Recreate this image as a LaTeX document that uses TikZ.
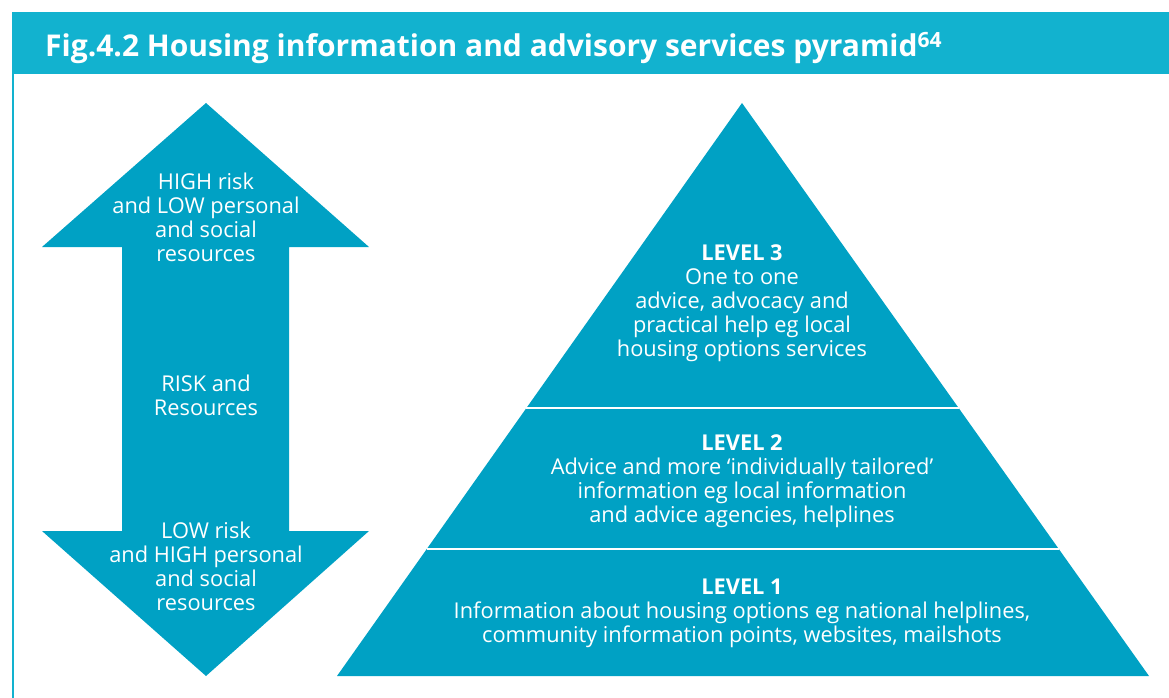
\documentclass[tikz,border=0pt]{standalone}
\usepackage{fontspec}
\setmainfont{Open Sans}
\usetikzlibrary{calc}
\definecolor{barcyan}{RGB}{18,178,207}
\definecolor{shapecyan}{RGB}{0,161,196}
\tikzset{
    shapefill/.style={fill=shapecyan},
    lbl/.style={text=white, align=center, inner sep=0pt,
        font=\fontsize{21.8}{24}\selectfont},
    sepline/.style={white, line width=2.5pt},
}
\begin{document}
\begin{tikzpicture}[x=1pt, y=-1pt]
        %画布与边框, 标题栏
        \useasboundingbox (0, 0) rectangle (1169, 698);
        \clip (0, 0) rectangle (1169, 698);
        \fill[barcyan] (12, 12) rectangle (1169, 74);
        \draw[barcyan, line width=2pt] (13, 698) -- (13, 13) -- (1169, 13);
        \node[anchor=base west, inner sep=0pt, text=white,
            font=\bfseries\fontsize{30}{36}\selectfont] (title) at (45, 57)
            {Fig.4.2 Housing information and advisory services pyramid\textsuperscript{64}};
        %双向箭头
        \fill[shapefill] (206, 103) -- (369, 247) -- (289, 247) -- (289, 531) %
            -- (369, 531) -- (206, 676) -- (42, 531) -- (122, 531) %
            -- (122, 247) -- (42, 247) -- cycle;
        \node[lbl] (high) at (206, 217) {HIGH risk\\and LOW personal\\and social\\resources};
        \node[lbl] (mid) at (206, 395) {RISK and\\Resources};
        \node[lbl] (low) at (206, 566) {LOW risk\\and HIGH personal\\and social\\resources};
        %金字塔, 三层
        \coordinate (apex) at (742, 103);
        \coordinate (bl) at (337, 676);
        \coordinate (br) at (1149, 676);
        \fill[shapefill] (apex) -- (br) -- (bl) -- cycle;
        \coordinate (l3l) at ($(apex)!0.5323!(bl)$);
        \coordinate (l3r) at ($(apex)!0.5323!(br)$);
        \coordinate (l2l) at ($(apex)!0.7784!(bl)$);
        \coordinate (l2r) at ($(apex)!0.7784!(br)$);
        \draw[sepline] (l3l) -- (l3r);
        \draw[sepline] (l2l) -- (l2r);
        \node[lbl] (level3) at (742, 303) {\textbf{LEVEL 3}\\One to one\\advice, advocacy and\\practical help eg local\\housing options services};
        \node[lbl] (level2) at (742, 481) {\textbf{LEVEL 2}\\Advice and more ‘individually tailored’\\information eg local information\\and advice agencies, helplines};
        \node[lbl] (level1) at (742, 613) {\textbf{LEVEL 1}\\Information about housing options eg national helplines,\\community information points, websites, mailshots};
    \end{tikzpicture}
\end{document}
